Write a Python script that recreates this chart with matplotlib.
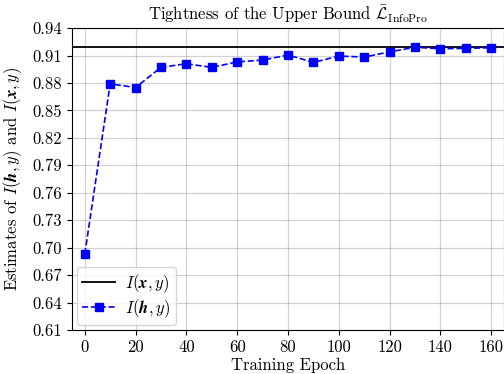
import matplotlib
matplotlib.use("Agg")
import matplotlib.pyplot as plt
import numpy as np

epochs = [0, 10, 20, 30, 40, 50, 60, 70, 80, 90, 100, 110, 120, 130, 140, 150, 160]
i_hy = [0.693, 0.879, 0.875, 0.897, 0.901, 0.897, 0.903, 0.905, 0.9105, 0.9025,
        0.9094, 0.9083, 0.914, 0.919, 0.9174, 0.9178, 0.9185]
i_xy = 0.919
yticks = [0.61, 0.64, 0.67, 0.70, 0.73, 0.76, 0.79, 0.82, 0.85, 0.88, 0.91, 0.94]
xticks = [0, 20, 40, 60, 80, 100, 120, 140, 160]

plt.rcParams['font.family'] = 'serif'
plt.rcParams['font.serif'] = ['cmr10', 'DejaVu Serif']
plt.rcParams['mathtext.fontset'] = 'cm'
plt.rcParams['axes.unicode_minus'] = False

fig = plt.figure(figsize=(5.04, 3.74), dpi=100)
ax = fig.add_axes([0.143, 0.1176, 0.857, 0.8074])

ax.axhline(i_xy, color='black', lw=1.3, label=r'$I(\mathbfit{x}, y)$')
ax.plot(epochs, i_hy, color='blue', ls='--', marker='s', markersize=6, lw=1.2,
        label=r'$I(\mathbfit{h}, y)$')

ax.set_xlim(-5, 165)
ax.set_ylim(0.61, 0.94)
ax.set_yticks(yticks)
ax.set_yticklabels([f"{v:.2f}" for v in yticks])
ax.set_xticks(xticks)
ax.tick_params(labelsize=12)
ax.grid(True, color='gray', alpha=0.35, lw=0.9)
ax.set_xlabel('Training Epoch', fontsize=12, labelpad=2)
ax.set_ylabel(r'Estimates of $I(\mathbfit{h}, y)$ and $I(\mathbfit{x}, y)$', fontsize=12, labelpad=6)
ax.set_title(r'Tightness of the Upper Bound $\bar{\mathcal{L}}_{\mathrm{InfoPro}}$', fontsize=12)
ax.legend(loc='lower left', fontsize=12, labelspacing=0.15, borderpad=0.3,
          handletextpad=0.6, handlelength=2.0, borderaxespad=0.3)

fig.savefig('out.png', dpi=100)
